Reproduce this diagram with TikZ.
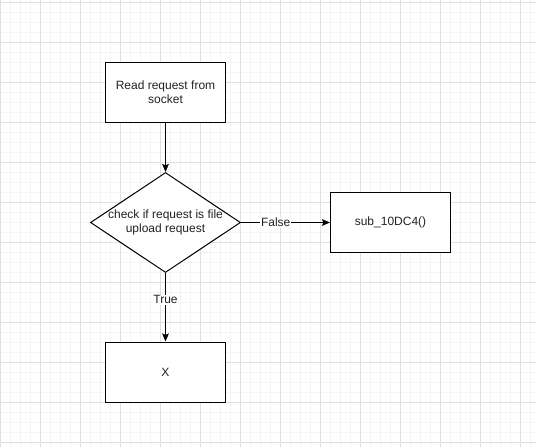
\documentclass[tikz,border=0pt]{standalone}
\usepackage{fontspec}
\setmainfont{Liberation Sans}
\usetikzlibrary{shapes.geometric}
\usetikzlibrary{arrows.meta}
\definecolor{gridmajor}{HTML}{E0E0E0}
\definecolor{gridminor}{HTML}{F4F4F4}
\definecolor{txt}{HTML}{222222}
\newcommand{\lbl}{\fontsize{9}{10.5}\selectfont\color{txt}}
\tikzset{
  block/.style={draw, line width=0.75pt, fill=white, minimum width=90pt, minimum height=45pt, inner sep=0pt, align=center, font=\lbl},
  decision/.style={diamond, draw, line width=0.75pt, fill=white, minimum width=112.5pt, minimum height=75pt, inner sep=0pt},
  edge/.style={line width=0.75pt, -{Stealth[length=6pt,width=5pt,inset=1pt]}},
  edgetext/.style={fill=white, inner sep=0.5pt, font=\lbl}
}

\begin{document}
\begin{tikzpicture}[x=0.75pt,y=-0.75pt]
\useasboundingbox (0,0) rectangle (536,447);
% grid
\foreach \i in {0,...,53} \draw[gridminor, line width=0.75pt] (\i*10+0.7,0) -- (\i*10+0.7,447);
\foreach \j in {0,...,44} \draw[gridminor, line width=0.75pt] (0,\j*10+2.7) -- (536,\j*10+2.7);
\foreach \i in {0,...,13} \draw[gridmajor, line width=0.75pt] (\i*40+0.7,0) -- (\i*40+0.7,447);
\foreach \j in {0,...,11} \draw[gridmajor, line width=0.75pt] (0,\j*40+2.7) -- (536,\j*40+2.7);

\node[block] (read) at (165.5,92) {Read request from\\socket};
\node[decision, label={[font=\lbl, align=center]center:check if request is file\\upload request}] (check) at (165.5,222.5) {};
\node[block] (sub) at (390.5,222.5) {sub\_10DC4()};
\node[block] (x) at (165.5,372) {X};

\draw[edge] (read) -- (check);
\draw[edge] (check) -- node[edgetext, pos=0.39] {False} (sub);
\draw[edge] (check) -- node[edgetext, pos=0.39] {True} (x);
\end{tikzpicture}
\end{document}
